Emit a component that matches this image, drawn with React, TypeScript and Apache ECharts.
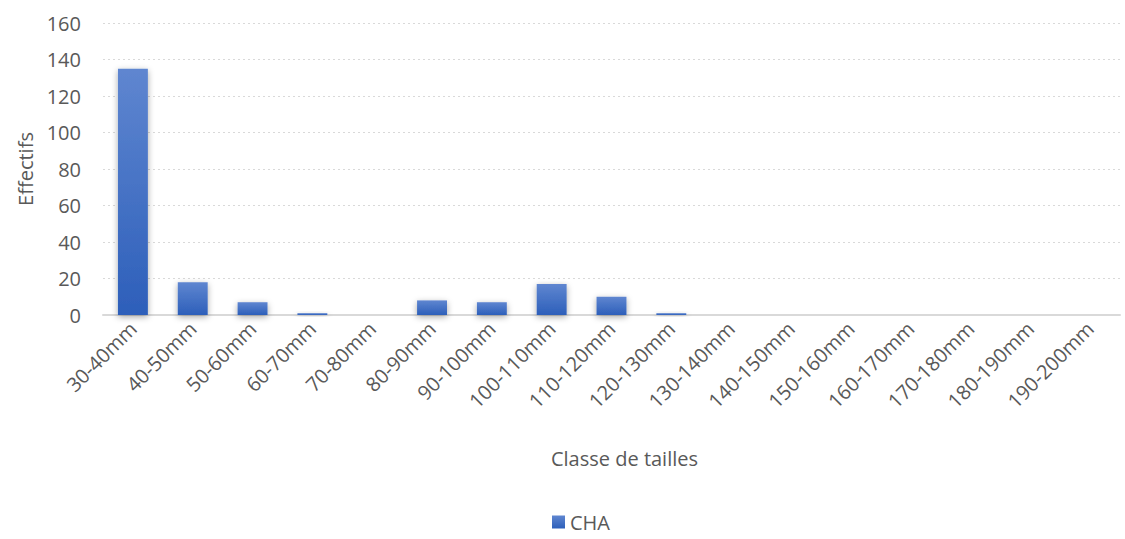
import React, { useEffect, useRef } from "react";
import * as echarts from "echarts";

const categories = [
  "30-40mm", "40-50mm", "50-60mm", "60-70mm", "70-80mm", "80-90mm", "90-100mm", "100-110mm",
  "110-120mm", "120-130mm", "130-140mm", "140-150mm", "150-160mm", "160-170mm", "170-180mm",
  "180-190mm", "190-200mm",
];
const chaValues = [135, 18, 7, 1, 0, 8, 7, 17, 10, 1, 0, 0, 0, 0, 0, 0, 0];
const seriesName = "CHA";
const yTicks = { min: 0, max: 160, interval: 20 };

const FONT = "'Open Sans', 'Noto Sans', sans-serif";
const TEXT = "#595959";
const SIZE = 20;

export default function App() {
  const ref = useRef<HTMLDivElement>(null);

  useEffect(() => {
    if (!ref.current) return;
    const chart = echarts.init(ref.current, undefined, { renderer: "svg" });
    const barFill = new echarts.graphic.LinearGradient(0, 0, 0, 1, [
      { offset: 0, color: "#5f86d0" },
      { offset: 1, color: "#2d5fba" },
    ]);
    chart.setOption({
      animation: false,
      textStyle: { fontFamily: FONT },
      grid: { left: 103, right: 5, top: 23, bottom: 224, containLabel: false },
      legend: {
        data: [seriesName],
        bottom: 2,
        left: 547,
        itemWidth: 13,
        itemHeight: 13,
        itemGap: 5,
        icon: "rect",
        textStyle: { color: TEXT, fontSize: SIZE, fontFamily: FONT },
      },
      xAxis: {
        type: "category",
        data: categories,
        name: "Classe de tailles",
        nameLocation: "middle",
        nameGap: 133,
        nameTextStyle: { color: TEXT, fontSize: SIZE, fontFamily: FONT, padding: [0, 0, 0, 26] },
        axisLine: { lineStyle: { color: "#d9d9d9", width: 2 } },
        axisTick: { show: false },
        axisLabel: {
          rotate: 45,
          interval: 0,
          color: TEXT,
          fontSize: SIZE,
          fontFamily: FONT,
          margin: 10,
        },
      },
      yAxis: {
        type: "value",
        min: yTicks.min,
        max: yTicks.max,
        interval: yTicks.interval,
        name: "Effectifs",
        nameLocation: "middle",
        nameGap: 68,
        nameRotate: 90,
        nameTextStyle: { color: TEXT, fontSize: SIZE, fontFamily: FONT },
        axisLabel: { color: TEXT, fontSize: SIZE, fontFamily: FONT, margin: 22 },
        axisLine: { show: false },
        axisTick: { show: false },
        splitLine: { lineStyle: { color: "#d9d9d9", type: [2, 3], width: 1 } },
      },
      series: [
        {
          name: seriesName,
          type: "bar",
          data: chaValues,
          barWidth: "50%",
          itemStyle: {
            color: barFill,
            shadowColor: "rgba(0,0,0,0.35)",
            shadowBlur: 6,
            shadowOffsetY: 2,
          },
        },
      ],
    });
    return () => chart.dispose();
  }, []);

  return <div ref={ref} style={{ width: 1125, height: 539, position: "absolute", left: 0, top: 0 }} />;
}
